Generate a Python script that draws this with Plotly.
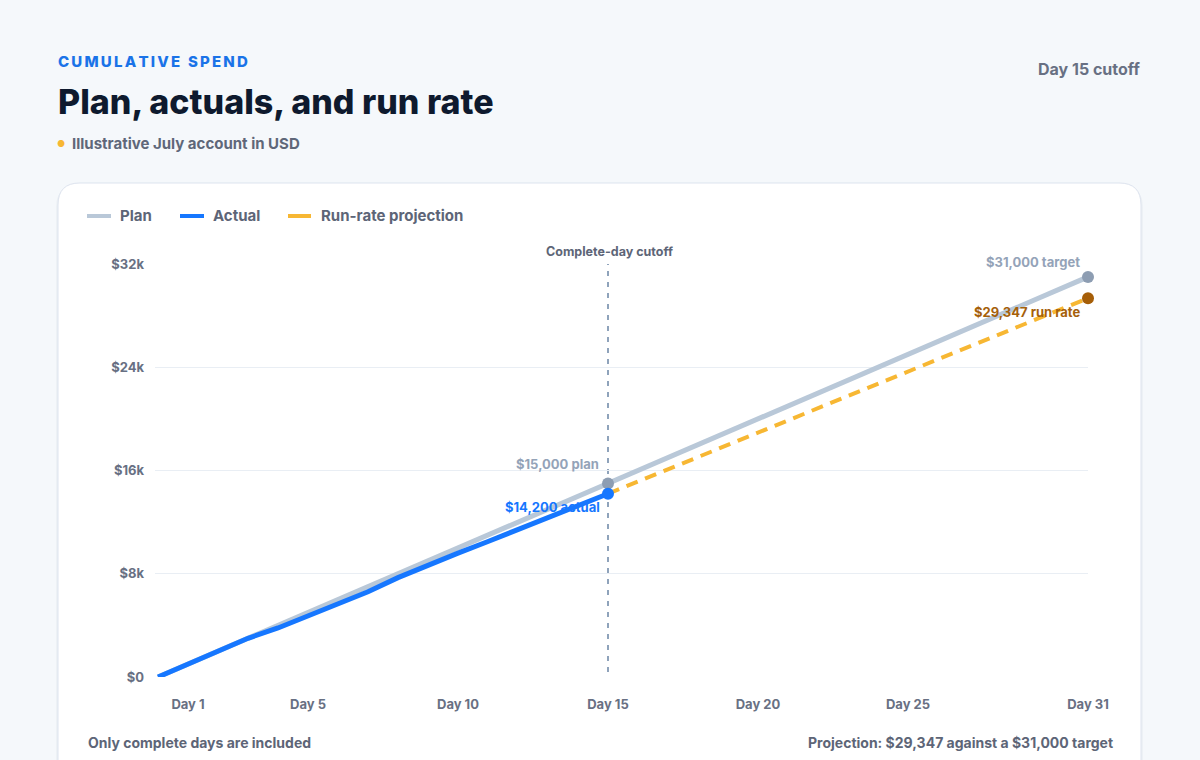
import plotly.graph_objects as go

# ---------------- data ----------------
plan_days = list(range(0, 32))
plan_values = [1000 * d for d in plan_days]  # linear plan: $31,000 by day 31

actual_days = list(range(0, 16))
actual_values = [0, 1000, 2000, 3000, 3800, 4700, 5600, 6600, 7700, 8700,
                 9600, 10500, 11400, 12300, 13300, 14200]

proj_days = [15, 31]
proj_values = [14200, 29347]

x_tick_vals = [1, 5, 10, 15, 20, 25, 31]
x_tick_text = ["Day 1", "Day 5", "Day 10", "Day 15", "Day 20", "Day 25", "Day 31"]
y_tick_vals = [0, 8000, 16000, 24000, 32000]
y_tick_text = ["$0", "$8k", "$16k", "$24k", "$32k"]

cutoff_day = 15

# ---------------- layout helpers ----------------
W, H = 1200, 760
ML, MR, MT, MB = 155, 112, 264, 83
PW = W - ML - MR
PH = H - MT - MB


def fx(X):
    return (X - ML) / PW


def fy(Y):
    return (H - MB - Y) / PH


def rr_path(x0, y0, x1, y1, r):
    pts = [
        ("M", [(x0 + r, y0)]),
        ("L", [(x1 - r, y0)]),
        ("Q", [(x1, y0), (x1, y0 + r)]),
        ("L", [(x1, y1 - r)]),
        ("Q", [(x1, y1), (x1 - r, y1)]),
        ("L", [(x0 + r, y1)]),
        ("Q", [(x0, y1), (x0, y1 - r)]),
        ("L", [(x0, y0 + r)]),
        ("Q", [(x0, y0), (x0 + r, y0)]),
    ]
    s = ""
    for cmd, ps in pts:
        s += cmd + " " + " ".join(f"{fx(a):.5f},{fy(b):.5f}" for a, b in ps) + " "
    return s + "Z"


FONT = "Inter, 'Noto Sans', sans-serif"
GREY = "#687083"
PLAN_C = "#b9c8d8"
PLAN_DOT = "#8d9db2"
ACT_C = "#1677ff"
PROJ_C = "#f7b733"
PROJ_DOT = "#a65e08"

fig = go.Figure()

fig.add_trace(go.Scatter(x=plan_days, y=plan_values, mode="lines",
                         line=dict(color=PLAN_C, width=5), name="Plan",
                         hoverinfo="skip", cliponaxis=False))
fig.add_trace(go.Scatter(x=proj_days, y=proj_values, mode="lines",
                         line=dict(color=PROJ_C, width=4, dash="12px,8px"),
                         name="Run-rate projection", hoverinfo="skip", cliponaxis=False))
fig.add_trace(go.Scatter(x=actual_days, y=actual_values, mode="lines",
                         line=dict(color=ACT_C, width=5), name="Actual",
                         hoverinfo="skip", cliponaxis=False))
# end-point markers
fig.add_trace(go.Scatter(x=[plan_days[15], plan_days[-1]],
                         y=[plan_values[15], plan_values[-1]], mode="markers",
                         marker=dict(color=PLAN_DOT, size=12), showlegend=False,
                         hoverinfo="skip", cliponaxis=False))
fig.add_trace(go.Scatter(x=[actual_days[-1]], y=[actual_values[-1]], mode="markers",
                         marker=dict(color=ACT_C, size=12), showlegend=False,
                         hoverinfo="skip", cliponaxis=False))
fig.add_trace(go.Scatter(x=[proj_days[-1]], y=[proj_values[-1]], mode="markers",
                         marker=dict(color=PROJ_DOT, size=12), showlegend=False,
                         hoverinfo="skip", cliponaxis=False))

shapes = []
# card shadow + card
shapes.append(dict(type="path", xref="paper", yref="paper", layer="below",
                   path=rr_path(56, 184, 1143, 790, 24),
                   fillcolor="rgba(30,50,90,0.035)", line=dict(width=0)))
shapes.append(dict(type="path", xref="paper", yref="paper", layer="below",
                   path=rr_path(58, 183, 1141, 790, 22),
                   fillcolor="#ffffff", line=dict(color="#dde3ee", width=1)))
# cutoff line
shapes.append(dict(type="line", xref="x", yref="paper", x0=cutoff_day, x1=cutoff_day,
                   y0=fy(672), y1=fy(264), layer="below",
                   line=dict(color="#8fa3bb", width=2, dash="5px,6px")))

annotations = []


def ann(text, X, Y, xanchor, size, color, weight=700):
    annotations.append(dict(text=text, x=fx(X), y=fy(Y), xref="paper", yref="paper",
                            xanchor=xanchor, yanchor="middle", showarrow=False,
                            borderpad=0, borderwidth=0,
                            font=dict(family=FONT, size=size, color=color, weight=weight)))


# manual legend
legend_items = [(87, 111, 120, "Plan", PLAN_C),
                (180, 204, 213, "Actual", ACT_C),
                (288, 311, 321, "Run-rate projection", PROJ_C)]
for x0, x1, tx, label, col in legend_items:
    shapes.append(dict(type="line", xref="paper", yref="paper",
                       x0=fx(x0), x1=fx(x1), y0=fy(216), y1=fy(216),
                       line=dict(color=col, width=4)))
    ann(label, tx, 216, "left", 15, "#5d6577")

thin = "\u2009"
eyebrow = (thin + " " + thin).join(thin.join(w) for w in "CUMULATIVE SPEND".split())
ann(eyebrow, 58, 61, "left", 15, "#1a73e8", 800)
ann("Plan, actuals, and run rate", 58, 102, "left", 34, "#0e1a2e", 800)
ann("●", 57, 143, "left", 9, "#f7b733")
ann("Illustrative July account in USD", 72, 143, "left", 15, "#5f6779")
ann("Day 15 cutoff", 1141, 69, "right", 16, "#687083")

ann("Complete-day cutoff", 609, 252, "center", 12.5, "#5d6577")
ann("$15,000 plan", 599, 464, "right", 13, "#94a3b8")
ann("$14,200 actual", 600, 507, "right", 13, ACT_C)
ann("$31,000 target", 1080, 262, "right", 13, "#94a3b8")
ann("$29,347 run rate", 1080, 312, "right", 13, "#a5600a")

ann("Only complete days are included", 88, 742, "left", 14, "#5d6577")
ann("Projection: $29,347 against a $31,000 target", 1113, 742, "right", 14, "#5d6577")

fig.update_layout(
    width=W, height=H,
    margin=dict(l=ML, r=MR, t=MT, b=MB),
    paper_bgcolor="#f5f8fb",
    plot_bgcolor="rgba(0,0,0,0)",
    showlegend=False,
    shapes=shapes,
    annotations=annotations,
    font=dict(family=FONT, color=GREY),
    xaxis=dict(range=[-0.1, 31], tickvals=x_tick_vals, ticktext=x_tick_text,
               showgrid=False, zeroline=False, showline=False, ticks="",
               ticklabelstandoff=18,
               tickfont=dict(family=FONT, size=13, color=GREY, weight=700),
               fixedrange=True),
    yaxis=dict(range=[0, 32000], tickvals=y_tick_vals, ticktext=y_tick_text,
               showgrid=True, gridcolor="#e9eef4", gridwidth=1,
               zeroline=False, showline=False, ticks="",
               ticklabelstandoff=10,
               tickfont=dict(family=FONT, size=13, color=GREY, weight=700),
               fixedrange=True),
)

fig.write_html(
    "out.html",
    config={"displayModeBar": False},
    post_script="document.body.style.margin='0';document.body.style.background='#f5f8fb';document.body.style.overflow='hidden';",
)
